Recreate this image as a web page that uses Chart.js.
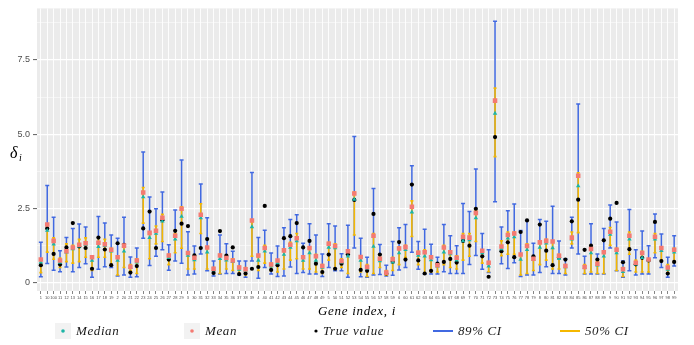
<!DOCTYPE html>
<html>
<head>
<meta charset="utf-8">
<script src="https://cdn.jsdelivr.net/npm/chart.js@4.4.0/dist/chart.umd.min.js"></script>
<style>
  html, body { margin: 0; padding: 0; background: #ffffff; }
  #wrap { width: 694px; height: 345px; }
</style>
</head>
<body>
<div id="wrap"><canvas id="geneChart" width="694" height="345"></canvas></div>
<script>
// Gene indices, in the (string sorted) order they appear on the axis
const geneLabels = [
  '1', '10', '100', '11', '12', '13', '14', '15', '16', '17', '18', '19',
  '2', '20', '21', '22', '23', '24', '25', '26', '27', '28', '29',
  '3', '30', '31', '32', '33', '34', '35', '36', '37', '38', '39',
  '4', '40', '41', '42', '43', '44', '45', '46', '47', '48', '49',
  '5', '50', '51', '52', '53', '54', '55', '56', '57', '58', '59',
  '6', '60', '61', '62', '63', '64', '65', '66', '67', '68', '69',
  '7', '70', '71', '72', '73', '74', '75', '76', '77', '78', '79',
  '8', '80', '81', '82', '83', '84', '85', '86', '87', '88', '89',
  '9', '90', '91', '92', '93', '94', '95', '96', '97', '98', '99'
];

// 89% interval
const ci89Low = [
  0.19, 0.64, 0.41, 0.36, 0.52, 0.36, 0.50, 0.63, 0.17, 0.44,
  0.53, 0.50, 0.22, 0.25, 0.17, 0.19, 1.49, 0.57, 0.88, 1.10,
  0.41, 0.72, 0.65, 0.25, 0.28, 0.96, 0.39, 0.22, 0.28, 0.30,
  0.30, 0.25, 0.17, 0.72, 0.14, 0.50, 0.28, 0.20, 0.22, 0.52,
  0.30, 0.33, 0.28, 0.28, 0.20, 0.50, 0.39, 0.39, 0.17, 1.16,
  0.19, 0.17, 0.25, 0.27, 0.22, 0.24, 0.42, 0.50, 1.02, 0.44,
  0.28, 0.28, 0.28, 0.36, 0.30, 0.30, 0.30, 0.60, 0.91, 0.44,
  0.33, 2.72, 0.63, 0.47, 0.66, 0.20, 0.25, 0.25, 0.33, 0.53,
  0.30, 0.30, 0.25, 1.16, 0.96, 0.28, 0.28, 0.28, 0.28, 1.16,
  0.39, 0.17, 0.39, 0.25, 0.28, 0.28, 0.83, 0.50, 0.17, 0.55
];
const ci89High = [
  1.35, 3.27, 2.20, 1.07, 1.51, 1.82, 1.97, 1.87, 0.83, 2.22,
  2.00, 1.60, 1.49, 2.20, 0.86, 1.16, 4.40, 2.88, 2.48, 3.05,
  1.27, 2.44, 4.13, 1.71, 1.23, 3.32, 2.18, 0.72, 1.60, 1.30,
  1.05, 0.72, 0.72, 3.71, 1.51, 1.76, 0.99, 1.23, 1.84, 2.12,
  2.28, 1.32, 1.98, 1.60, 0.96, 1.98, 1.90, 0.97, 1.93, 4.92,
  1.49, 0.85, 3.17, 1.28, 0.58, 1.38, 1.84, 1.95, 3.93, 1.38,
  1.79, 1.29, 0.85, 1.95, 1.57, 1.24, 2.66, 2.39, 3.82, 1.65,
  1.10, 8.81, 1.87, 2.42, 2.64, 1.75, 2.09, 1.32, 2.12, 2.06,
  2.57, 1.40, 0.80, 2.20, 6.02, 0.88, 1.98, 0.96, 1.82, 2.61,
  2.04, 0.72, 2.46, 1.10, 1.73, 1.24, 2.31, 1.63, 0.85, 1.57
];

// 50% interval
const ci50Low = [
  0.33, 1.02, 0.78, 0.50, 0.70, 0.65, 0.70, 0.85, 0.40, 0.85,
  0.85, 0.60, 0.25, 0.50, 0.40, 0.30, 2.00, 0.80, 1.30, 1.38,
  0.60, 1.00, 1.15, 0.45, 0.45, 1.65, 0.45, 0.30, 0.30, 0.45,
  0.40, 0.30, 0.25, 0.88, 0.40, 0.65, 0.40, 0.35, 0.45, 0.75,
  0.80, 0.45, 0.45, 0.35, 0.30, 0.75, 0.45, 0.50, 0.30, 1.60,
  0.35, 0.20, 0.30, 0.50, 0.24, 0.40, 0.60, 0.85, 1.55, 0.60,
  0.30, 0.35, 0.35, 0.60, 0.50, 0.45, 0.75, 0.88, 1.38, 0.65,
  0.36, 4.24, 0.90, 0.95, 0.95, 0.25, 0.30, 0.40, 0.60, 0.75,
  0.45, 0.45, 0.30, 1.30, 1.68, 0.30, 0.35, 0.30, 0.30, 1.25,
  0.40, 0.20, 0.95, 0.35, 0.35, 0.35, 1.00, 0.75, 0.30, 0.70
];
const ci50High = [
  0.80, 1.98, 1.50, 0.82, 1.30, 1.25, 1.45, 1.50, 0.85, 1.50,
  1.45, 1.15, 0.85, 1.25, 0.60, 0.80, 3.20, 1.70, 1.90, 2.30,
  0.95, 1.65, 2.55, 1.00, 0.90, 2.65, 1.20, 0.50, 0.95, 0.90,
  0.80, 0.55, 0.50, 2.04, 0.85, 1.25, 0.65, 0.75, 1.10, 1.35,
  1.65, 0.90, 1.20, 0.95, 0.60, 1.35, 1.30, 0.80, 1.10, 3.05,
  0.90, 0.60, 1.65, 0.85, 0.40, 0.85, 1.20, 1.25, 2.75, 1.05,
  1.10, 0.90, 0.65, 1.25, 1.05, 0.90, 1.65, 1.65, 2.42, 1.10,
  0.70, 6.55, 1.40, 1.70, 1.70, 0.94, 1.30, 0.85, 1.40, 1.45,
  1.40, 0.95, 0.60, 1.70, 3.70, 0.60, 1.20, 0.70, 1.05, 1.85,
  1.15, 0.50, 1.70, 0.75, 1.05, 0.80, 1.65, 1.20, 0.60, 1.15
];

// point estimates and the simulated truth
const medianVals = [
  0.68, 1.75, 1.29, 0.67, 1.02, 1.13, 1.22, 1.27, 0.74, 1.20,
  1.24, 1.05, 0.74, 1.05, 0.50, 0.68, 2.88, 1.51, 1.65, 2.06,
  0.83, 1.46, 2.22, 0.91, 0.76, 2.17, 1.02, 0.42, 0.80, 0.75,
  0.70, 0.44, 0.41, 1.87, 0.74, 1.05, 0.55, 0.66, 0.94, 1.18,
  1.40, 0.74, 0.99, 0.74, 0.50, 1.18, 1.16, 0.68, 0.88, 2.80,
  0.74, 0.48, 1.21, 0.72, 0.30, 0.68, 0.99, 1.10, 2.37, 0.91,
  0.88, 0.76, 0.55, 1.02, 0.96, 0.75, 1.40, 1.43, 2.17, 0.99,
  0.55, 5.70, 1.13, 1.49, 1.53, 0.77, 1.10, 0.77, 1.18, 1.32,
  1.16, 0.80, 0.52, 1.46, 3.25, 0.50, 0.99, 0.58, 0.88, 1.62,
  0.99, 0.36, 1.46, 0.61, 0.83, 0.74, 1.46, 1.07, 0.44, 1.02
];
const meanVals = [
  0.77, 1.95, 1.40, 0.74, 1.05, 1.18, 1.27, 1.32, 0.85, 1.34,
  1.29, 1.10, 0.85, 1.24, 0.53, 0.74, 3.03, 1.67, 1.74, 2.18,
  0.91, 1.57, 2.48, 0.99, 0.83, 2.28, 1.18, 0.46, 0.91, 0.82,
  0.74, 0.50, 0.44, 2.09, 0.91, 1.16, 0.60, 0.74, 1.08, 1.27,
  1.49, 0.85, 1.16, 0.88, 0.55, 1.30, 1.23, 0.72, 1.05, 3.00,
  0.86, 0.52, 1.57, 0.80, 0.33, 0.78, 1.14, 1.19, 2.55, 1.00,
  1.02, 0.85, 0.58, 1.18, 1.02, 0.83, 1.54, 1.51, 2.34, 1.07,
  0.66, 6.13, 1.21, 1.60, 1.65, 0.94, 1.23, 0.80, 1.35, 1.40,
  1.38, 0.90, 0.55, 1.51, 3.60, 0.52, 1.13, 0.63, 1.02, 1.71,
  1.10, 0.44, 1.57, 0.66, 0.99, 0.77, 1.54, 1.16, 0.50, 1.10
];
const trueVals = [
  0.58, 1.82, 0.96, 0.60, 1.18, 2.00, 1.21, 1.16, 0.46, 1.51,
  1.11, 0.58, 1.32, 1.27, 0.33, 0.55, 1.82, 2.39, 1.16, 2.10,
  0.77, 1.74, 1.98, 1.90, 0.91, 1.16, 1.46, 0.32, 1.73, 0.90,
  1.18, 0.28, 0.30, 0.46, 0.52, 2.58, 0.42, 0.58, 1.49, 1.56,
  2.00, 1.18, 1.40, 0.63, 0.35, 0.94, 0.46, 0.63, 0.95, 2.78,
  0.42, 0.39, 2.31, 0.94, 0.30, 0.70, 1.36, 0.77, 3.30, 0.74,
  0.30, 0.39, 0.63, 0.69, 0.79, 0.67, 1.40, 1.24, 2.48, 0.88,
  0.19, 4.90, 1.05, 1.35, 0.85, 1.70, 2.09, 0.88, 1.95, 1.07,
  0.58, 0.85, 0.77, 2.06, 2.79, 1.10, 1.24, 0.77, 1.42, 2.15,
  2.68, 0.68, 1.12, 0.61, 0.83, 0.74, 2.04, 0.72, 0.30, 0.69
];

const yTicks = [0, 1.25, 2.5, 3.75, 5, 6.25, 7.5, 8.75];

const BLUE = '#4169E1';
const GOLD = '#F5B800';
const TEAL = '#1DB5A6';
const PINK = '#F47A72';

function toPoints(values) {
  return values.map((v, i) => ({ x: i, y: v }));
}

// grey panel like ggplot
const panelBackground = {
  id: 'panelBackground',
  beforeDraw(chart) {
    const { ctx, chartArea: a } = chart;
    ctx.save();
    ctx.fillStyle = '#EBEBEB';
    ctx.fillRect(a.left, a.top, a.right - a.left, a.bottom - a.top);
    ctx.restore();
  }
};

function drawInterval(ctx, x, yLo, yHi, cap, color, width) {
  ctx.strokeStyle = color;
  ctx.lineWidth = width;
  ctx.beginPath();
  ctx.moveTo(x, yLo);
  ctx.lineTo(x, yHi);
  ctx.moveTo(x - cap, yLo);
  ctx.lineTo(x + cap, yLo);
  ctx.moveTo(x - cap, yHi);
  ctx.lineTo(x + cap, yHi);
  ctx.stroke();
}

// 89% and 50% intervals, under the points
const intervalBars = {
  id: 'intervalBars',
  beforeDatasetsDraw(chart) {
    const { ctx, scales: { x, y } } = chart;
    ctx.save();
    ctx.lineCap = 'butt';
    for (let i = 0; i < geneLabels.length; i++) {
      const px = x.getPixelForValue(i);
      drawInterval(ctx, px, y.getPixelForValue(ci89Low[i]), y.getPixelForValue(ci89High[i]), 2, BLUE, 1.5);
    }
    for (let i = 0; i < geneLabels.length; i++) {
      const px = x.getPixelForValue(i);
      drawInterval(ctx, px, y.getPixelForValue(ci50Low[i]), y.getPixelForValue(ci50High[i]), 1.5, GOLD, 1.6);
    }
    ctx.restore();
  }
};

// axis titles and the bottom legend
const annotations = {
  id: 'annotations',
  afterDraw(chart) {
    const { ctx } = chart;
    ctx.save();
    ctx.fillStyle = '#000';
    ctx.textBaseline = 'alphabetic';

    // y title: delta_i
    ctx.font = 'italic 16px "Liberation Serif"';
    ctx.textAlign = 'left';
    ctx.fillText('\u03B4', 10, 158);
    ctx.font = 'italic 10px "Liberation Serif"';
    ctx.fillText('i', 19, 161);

    // x title
    ctx.font = 'italic 13px "Liberation Serif"';
    ctx.letterSpacing = '0.7px';
    ctx.textAlign = 'center';
    ctx.fillText('Gene index, i', 357, 315);

    // legend
    const ly = 331;
    ctx.textAlign = 'left';
    ctx.font = 'italic 13px "Liberation Serif"';
    ctx.letterSpacing = '0.6px';

    ctx.fillStyle = '#F2F2F2';
    ctx.fillRect(55, 323, 16, 16);
    ctx.fillRect(184, 323, 16, 16);

    ctx.fillStyle = TEAL;
    ctx.beginPath(); ctx.arc(63, ly, 1.8, 0, Math.PI * 2); ctx.fill();
    ctx.fillStyle = PINK;
    ctx.beginPath(); ctx.arc(192, ly, 1.8, 0, Math.PI * 2); ctx.fill();
    ctx.fillStyle = '#000';
    ctx.beginPath(); ctx.arc(316, ly, 1.6, 0, Math.PI * 2); ctx.fill();

    ctx.lineWidth = 2;
    ctx.strokeStyle = BLUE;
    ctx.beginPath(); ctx.moveTo(433, ly); ctx.lineTo(453, ly); ctx.stroke();
    ctx.strokeStyle = GOLD;
    ctx.beginPath(); ctx.moveTo(560, ly); ctx.lineTo(580, ly); ctx.stroke();

    ctx.fillStyle = '#1a1a1a';
    ctx.fillText('Median', 76, ly + 4);
    ctx.fillText('Mean', 205, ly + 4);
    ctx.fillText('True value', 323, ly + 4);
    ctx.fillText('89% CI', 458, ly + 4);
    ctx.fillText('50% CI', 585, ly + 4);
    ctx.restore();
  }
};

const ctx = document.getElementById('geneChart').getContext('2d');
const geneChart = new Chart(ctx, {
  type: 'scatter',
  data: {
    datasets: [
      {
        label: 'Mean',
        data: toPoints(meanVals),
        pointStyle: 'rect',
        pointRadius: 3.2,
        backgroundColor: PINK,
        borderWidth: 0
      },
      {
        label: 'Median',
        data: toPoints(medianVals),
        pointStyle: 'triangle',
        pointRadius: 2.6,
        backgroundColor: TEAL,
        borderWidth: 0
      },
      {
        label: 'True value',
        data: toPoints(trueVals),
        pointStyle: 'circle',
        pointRadius: 2.1,
        backgroundColor: '#000',
        borderWidth: 0
      }
    ]
  },
  options: {
    responsive: false,
    animation: false,
    events: [],
    layout: {
      padding: { left: 0, right: 16, top: 2, bottom: 0 }
    },
    plugins: {
      legend: { display: false },
      tooltip: { enabled: false }
    },
    scales: {
      x: {
        type: 'linear',
        min: -0.6,
        max: 99.6,
        afterBuildTicks(scale) {
          scale.ticks = geneLabels.map((_, i) => ({ value: i }));
        },
        afterFit(scale) {
          scale.height = 54;
        },
        border: { display: false },
        grid: {
          color: '#FFFFFF',
          lineWidth: 0.9,
          tickColor: '#333333',
          tickLength: 3,
          tickWidth: 0.6
        },
        ticks: {
          autoSkip: false,
          maxRotation: 0,
          minRotation: 0,
          padding: 1,
          color: '#4D4D4D',
          font: { family: 'Liberation Sans', size: 4 },
          callback: (value) => geneLabels[value]
        }
      },
      y: {
        min: -0.29,
        max: 9.24,
        afterBuildTicks(scale) {
          scale.ticks = yTicks.map(v => ({ value: v }));
        },
        afterFit(scale) {
          scale.width = 37;
        },
        border: { display: false },
        grid: {
          color: '#FFFFFF',
          lineWidth: (c) => (c.tick && c.tick.value % 2.5 === 0 ? 1.2 : 0.5),
          tickColor: (c) => (c.tick && c.tick.value % 2.5 === 0 ? '#333333' : 'rgba(0,0,0,0)'),
          tickLength: 4,
          tickWidth: 0.8
        },
        ticks: {
          padding: 3,
          color: '#4D4D4D',
          font: { family: 'Liberation Sans', size: 9 },
          callback: (value) => (value % 2.5 === 0 ? (value === 0 ? '0' : value.toFixed(1)) : '')
        }
      }
    }
  },
  plugins: [panelBackground, intervalBars, annotations]
});
</script>
</body>
</html>
